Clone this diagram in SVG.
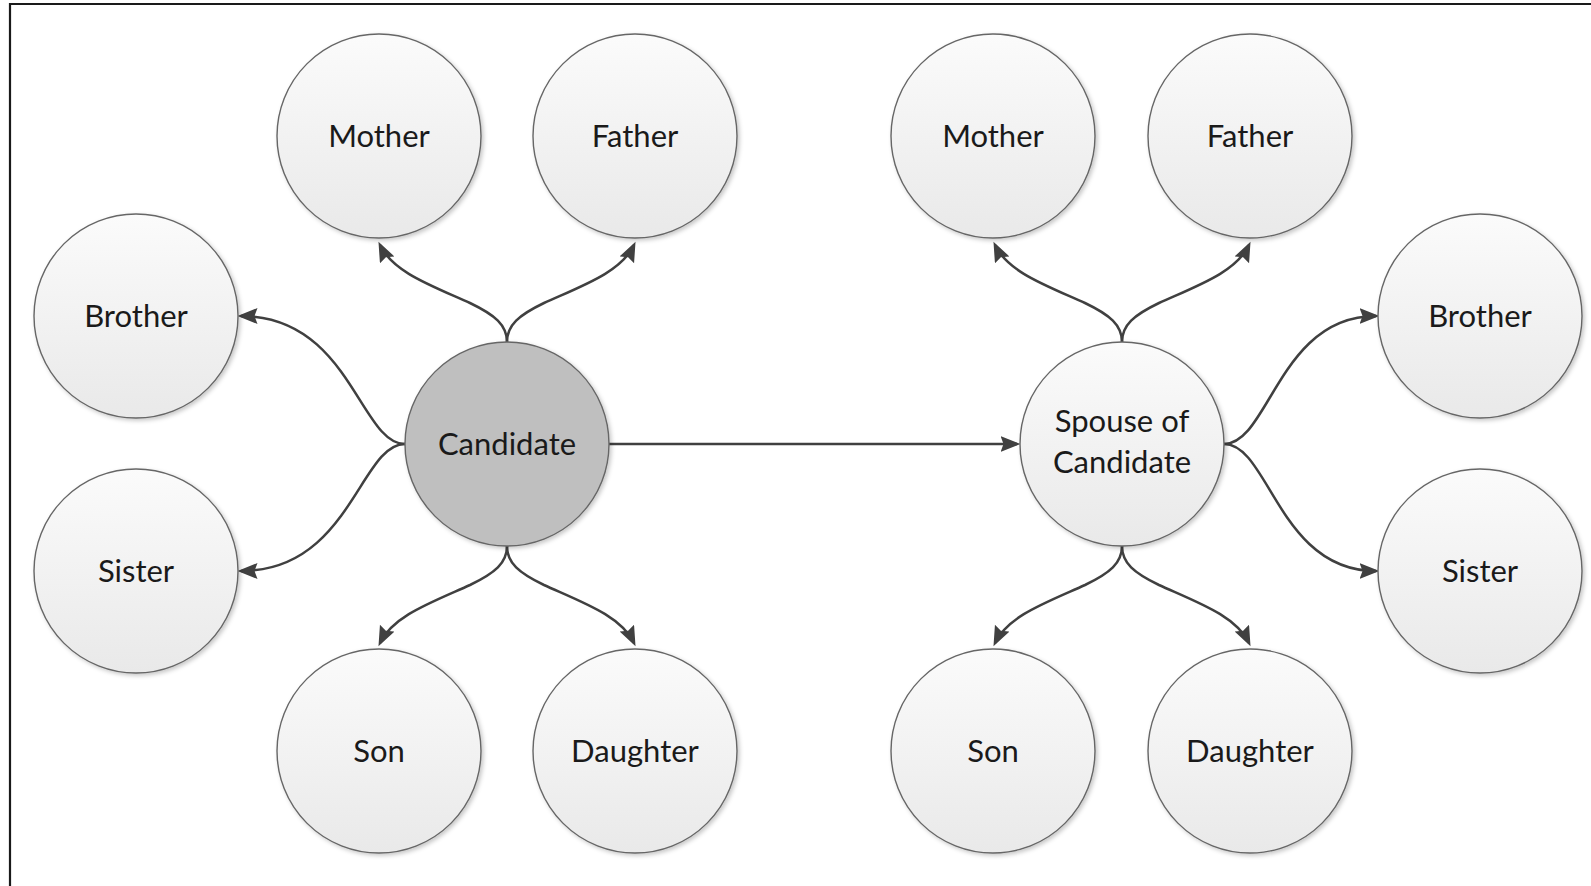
<svg xmlns="http://www.w3.org/2000/svg" width="1591" height="886" viewBox="0 0 1591 886">
<defs>
<linearGradient id="nodeFill" x1="0" y1="0" x2="0" y2="1">
<stop offset="0" stop-color="#fbfbfb"/>
<stop offset="1" stop-color="#e9e9e9"/>
</linearGradient>
<filter id="shadow" x="-20%" y="-20%" width="140%" height="140%">
<feDropShadow dx="2" dy="2" stdDeviation="2" flood-color="#000" flood-opacity="0.22"/>
</filter>
<marker id="arrow" markerUnits="userSpaceOnUse" markerWidth="21" markerHeight="17" refX="16.5" refY="8" orient="auto">
<path d="M0,0 L20,8 L0,16 L3,8 z" fill="#404040"/>
</marker>
<style>
.node circle{fill:url(#nodeFill);stroke:#666;stroke-width:1.4;filter:url(#shadow)}
.node.main circle{fill:#bfbfbf}
.node text{font-family:Lato,"Open Sans","Liberation Sans",sans-serif;font-size:31px;fill:#1a1a1a;text-anchor:middle}
.conn path{fill:none;stroke:#404040;stroke-width:2.5;marker-end:url(#arrow)}
</style>
</defs>
<rect width="1591" height="886" fill="#fff"/>
<path d="M10,886 V4 H1591" fill="none" stroke="#1a1a1a" stroke-width="2.2"/>

<g id="connectors" class="conn">
<path d="M507,342 C507,325 495,315 470,303 C430,285 393,272 380,245"/>
<path d="M507,342 C507,325 519,315 544,303 C584,285 621,272 634,245"/>
<path d="M405,444 C360,444 350,316 241,316"/>
<path d="M405,444 C360,444 350,571 241,571"/>
<path d="M507,546 C507,563 495,573 470,585 C430,603 393,616 380,643"/>
<path d="M507,546 C507,563 519,573 544,585 C584,603 621,616 634,643"/>
<path d="M609,444 H1017"/>
<path d="M1122,342 C1122,325 1110,315 1085,303 C1045,285 1008,272 995,245"/>
<path d="M1122,342 C1122,325 1134,315 1159,303 C1199,285 1236,272 1249,245"/>
<path d="M1224,444 C1269,444 1279,316 1376,316"/>
<path d="M1224,444 C1269,444 1279,571 1376,571"/>
<path d="M1122,546 C1122,563 1110,573 1085,585 C1045,603 1008,616 995,643"/>
<path d="M1122,546 C1122,563 1134,573 1159,585 C1199,603 1236,616 1249,643"/>
</g>

<g id="candidate" class="node main"><circle cx="507" cy="444" r="102"/><text x="507" y="455">Candidate</text></g>
<g id="c-mother" class="node"><circle cx="379" cy="136" r="102"/><text x="379" y="147">Mother</text></g>
<g id="c-father" class="node"><circle cx="635" cy="136" r="102"/><text x="635" y="147">Father</text></g>
<g id="c-brother" class="node"><circle cx="136" cy="316" r="102"/><text x="136" y="327">Brother</text></g>
<g id="c-sister" class="node"><circle cx="136" cy="571" r="102"/><text x="136" y="582">Sister</text></g>
<g id="c-son" class="node"><circle cx="379" cy="751" r="102"/><text x="379" y="762">Son</text></g>
<g id="c-daughter" class="node"><circle cx="635" cy="751" r="102"/><text x="635" y="762">Daughter</text></g>

<g id="spouse" class="node"><circle cx="1122" cy="444" r="102"/><text x="1122" y="432">Spouse of</text><text x="1122" y="473">Candidate</text></g>
<g id="s-mother" class="node"><circle cx="993" cy="136" r="102"/><text x="993" y="147">Mother</text></g>
<g id="s-father" class="node"><circle cx="1250" cy="136" r="102"/><text x="1250" y="147">Father</text></g>
<g id="s-brother" class="node"><circle cx="1480" cy="316" r="102"/><text x="1480" y="327">Brother</text></g>
<g id="s-sister" class="node"><circle cx="1480" cy="571" r="102"/><text x="1480" y="582">Sister</text></g>
<g id="s-son" class="node"><circle cx="993" cy="751" r="102"/><text x="993" y="762">Son</text></g>
<g id="s-daughter" class="node"><circle cx="1250" cy="751" r="102"/><text x="1250" y="762">Daughter</text></g>
</svg>
